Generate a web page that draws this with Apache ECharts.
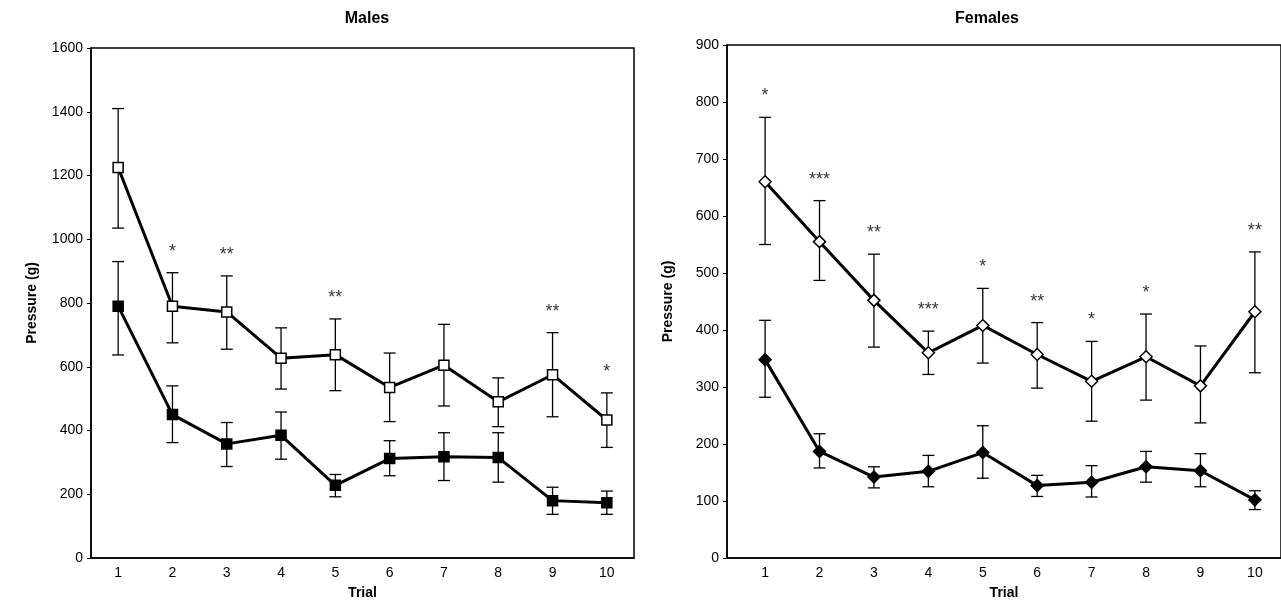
<!DOCTYPE html>
<html>
<head>
<meta charset="utf-8">
<script src="https://cdn.jsdelivr.net/npm/echarts@6/dist/echarts.min.js"></script>
<style>html,body{margin:0;background:#fff}#c{width:1281px;height:605px}</style>
</head>
<body>
<div id="c"></div>
<script>
const trials = [1, 2, 3, 4, 5, 6, 7, 8, 9, 10];

// Males
const maleOpen = [1225, 790, 772, 627, 638, 535, 605, 490, 575, 433];
const maleOpenHi = [1410, 895, 885, 722, 750, 643, 733, 565, 707, 518];
const maleOpenLo = [1035, 675, 655, 530, 525, 428, 477, 412, 443, 347];
const maleFilled = [790, 450, 358, 385, 228, 312, 318, 315, 180, 173];
const maleFilledHi = [930, 540, 425, 458, 262, 368, 393, 393, 222, 210];
const maleFilledLo = [637, 362, 287, 310, 192, 258, 243, 238, 137, 137];
const maleStars = ['', '*', '**', '', '**', '', '', '', '**', '*'];

// Females
const femOpen = [660, 555, 452, 360, 408, 357, 310, 353, 302, 432];
const femOpenHi = [773, 627, 533, 398, 473, 413, 380, 428, 372, 537];
const femOpenLo = [550, 487, 370, 322, 342, 298, 240, 277, 237, 325];
const femFilled = [348, 187, 142, 152, 185, 127, 133, 160, 153, 102];
const femFilledHi = [417, 218, 160, 180, 232, 145, 162, 187, 183, 118];
const femFilledLo = [282, 158, 123, 125, 140, 108, 107, 133, 125, 85];
const femStars = ['*', '***', '**', '***', '*', '**', '*', '*', '', '**'];

const font = 'Liberation Sans, Arial, sans-serif';
const pair = arr => trials.map((t, i) => [t, arr[i]]);

function errBars(idx, hi, lo) {
    return {
        type: 'custom', xAxisIndex: idx, yAxisIndex: idx, z: 1, silent: true,
        data: trials.map((t, i) => [t, hi[i], lo[i]]),
        renderItem: (params, api) => {
            const top = api.coord([api.value(0), api.value(1)]);
            const bot = api.coord([api.value(0), api.value(2)]);
            const w = 6;
            const st = { stroke: '#000', lineWidth: 1.3 };
            return {
                type: 'group', children: [
                    { type: 'line', shape: { x1: top[0], y1: top[1], x2: bot[0], y2: bot[1] }, style: st },
                    { type: 'line', shape: { x1: top[0] - w, y1: top[1], x2: top[0] + w, y2: top[1] }, style: st },
                    { type: 'line', shape: { x1: bot[0] - w, y1: bot[1], x2: bot[0] + w, y2: bot[1] }, style: st }
                ]
            };
        }
    };
}

function line(idx, data, symbol, fill, size) {
    return {
        type: 'line', xAxisIndex: idx, yAxisIndex: idx, z: 3,
        data: pair(data), symbol: symbol, symbolSize: size, showAllSymbol: true,
        lineStyle: { color: '#000', width: 3 },
        itemStyle: { color: fill, borderColor: '#000', borderWidth: 1.5 }
    };
}

function stars(idx, hi, marks) {
    return {
        type: 'scatter', xAxisIndex: idx, yAxisIndex: idx, symbolSize: 0, silent: true,
        data: trials.map((t, i) => ({ value: [t, hi[i]], mark: marks[i] })),
        label: {
            show: true, position: 'top', distance: 12, color: '#000', fontSize: 18, fontFamily: font,
            formatter: p => p.data.mark
        }
    };
}

const xAxisBase = (min, max) => ({
    type: 'value', min: min, max: max,
    name: 'Trial', nameLocation: 'middle', nameGap: 28,
    nameTextStyle: { fontWeight: 'bold', fontSize: 14, color: '#000', fontFamily: font },
    axisLine: { show: true, onZero: false, lineStyle: { color: '#000', width: 1.5 } },
    axisTick: { show: false },
    axisLabel: { customValues: trials, color: '#000', fontSize: 14, fontFamily: font },
    splitLine: { show: false }
});

const yAxisBase = (max, interval) => ({
    type: 'value', min: 0, max: max, interval: interval,
    name: 'Pressure (g)', nameLocation: 'middle', nameGap: 52, nameRotate: 90,
    nameTextStyle: { fontWeight: 'bold', fontSize: 14, color: '#000', fontFamily: font },
    axisLine: { show: true, lineStyle: { color: '#000', width: 1.5 } },
    axisTick: { show: true, length: 4, lineStyle: { color: '#000' } },
    axisLabel: { color: '#000', fontSize: 14, fontFamily: font, margin: 8, formatter: v => String(v) },
    splitLine: { show: false }
});

const chart = echarts.init(document.getElementById('c'));
chart.setOption({
    animation: false,
    title: [
        { text: 'Males', left: 362, top: 6, textAlign: 'center', textStyle: { fontSize: 16, fontWeight: 'bold', fontFamily: font, color: '#000' } },
        { text: 'Females', left: 982, top: 6, textAlign: 'center', textStyle: { fontSize: 16, fontWeight: 'bold', fontFamily: font, color: '#000' } }
    ],
    grid: [
        { left: 91, top: 48, width: 543, height: 527, show: true, borderColor: '#000', borderWidth: 1.5 },
        { left: 727, top: 45, width: 560, height: 530, show: true, borderColor: '#000', borderWidth: 1.5 }
    ],
    xAxis: [
        Object.assign(xAxisBase(0.5, 10.5), { gridIndex: 0 }),
        Object.assign(xAxisBase(0.3, 10.48), { gridIndex: 1 })
    ],
    yAxis: [
        Object.assign(yAxisBase(1600, 200), { gridIndex: 0 }),
        Object.assign(yAxisBase(900, 100), { gridIndex: 1 })
    ],
    series: [
        errBars(0, maleOpenHi, maleOpenLo),
        errBars(0, maleFilledHi, maleFilledLo),
        line(0, maleOpen, 'rect', '#fff', 10),
        line(0, maleFilled, 'rect', '#000', 10),
        stars(0, maleOpenHi, maleStars),
        errBars(1, femOpenHi, femOpenLo),
        errBars(1, femFilledHi, femFilledLo),
        line(1, femOpen, 'diamond', '#fff', 12),
        line(1, femFilled, 'diamond', '#000', 12),
        stars(1, femOpenHi, femStars)
    ]
});
</script>
</body>
</html>
